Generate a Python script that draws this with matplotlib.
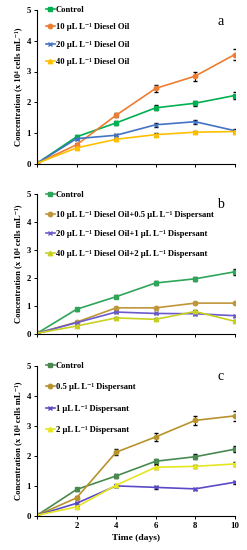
import matplotlib.pyplot as plt
from matplotlib.lines import Line2D

plt.rcParams['font.family'] = ['Liberation Serif', 'DejaVu Serif']

days = [0, 2, 4, 6, 8, 10]

# panel a
control = [0.02, 0.88, 1.33, 1.82, 1.97, 2.22]
control_err = [0.0, 0.05, 0.06, 0.08, 0.08, 0.1]
a_10 = [0.02, 0.62, 1.58, 2.45, 2.85, 3.55]
a_10_err = [0.0, 0.05, 0.06, 0.12, 0.15, 0.18]
a_20 = [0.02, 0.82, 0.93, 1.27, 1.37, 1.08]
a_20_err = [0.0, 0.04, 0.04, 0.06, 0.06, 0.05]
a_40 = [0.02, 0.52, 0.80, 0.95, 1.03, 1.05]
a_40_err = [0.0, 0.03, 0.03, 0.04, 0.04, 0.04]

# panel b
b_10 = [0.02, 0.42, 0.93, 0.93, 1.10, 1.10]
b_10_err = [0.0, 0.03, 0.04, 0.04, 0.04, 0.04]
b_20 = [0.02, 0.40, 0.78, 0.73, 0.72, 0.65]
b_20_err = [0.0, 0.03, 0.03, 0.03, 0.03, 0.03]
b_40 = [0.02, 0.28, 0.57, 0.52, 0.80, 0.45]
b_40_err = [0.0, 0.02, 0.03, 0.03, 0.04, 0.03]

# panel c
c_05 = [0.02, 0.60, 2.12, 2.63, 3.18, 3.33]
c_05_err = [0.0, 0.05, 0.1, 0.14, 0.16, 0.16]
c_1 = [0.02, 0.42, 1.00, 0.95, 0.90, 1.12]
c_1_err = [0.0, 0.03, 0.04, 0.04, 0.04, 0.05]
c_2 = [0.02, 0.30, 1.02, 1.62, 1.65, 1.73]
c_2_err = [0.0, 0.03, 0.05, 0.06, 0.06, 0.08]

panels = [
    ('a', [
        ('Control', control, control_err, '#00b050', 's'),
        ('10 \u00b5L L\u207b\u00b9 Diesel Oil', a_10, a_10_err, '#ed7d31', 'o'),
        ('20 \u00b5L L\u207b\u00b9 Diesel Oil', a_20, a_20_err, '#4472c4', 'x'),
        ('40 \u00b5L L\u207b\u00b9 Diesel Oil', a_40, a_40_err, '#ffc000', '^'),
    ]),
    ('b', [
        ('Control', control, control_err, '#2fa55a', 's'),
        ('10 \u00b5L L\u207b\u00b9 Diesel Oil+0.5 \u00b5L L\u207b\u00b9 Dispersant', b_10, b_10_err, '#c0963c', 'o'),
        ('20 \u00b5L L\u207b\u00b9 Diesel Oil+1 \u00b5L L\u207b\u00b9 Dispersant', b_20, b_20_err, '#6a5acd', 'x'),
        ('40 \u00b5L L\u207b\u00b9 Diesel Oil+2 \u00b5L L\u207b\u00b9 Dispersant', b_40, b_40_err, '#c8d020', '^'),
    ]),
    ('c', [
        ('Control', control, control_err, '#4a8a50', 's'),
        ('0.5 \u00b5L L\u207b\u00b9 Dispersant', c_05, c_05_err, '#b8922a', 'o'),
        ('1 \u00b5L L\u207b\u00b9 Dispersant', c_1, c_1_err, '#5a4ac8', 'x'),
        ('2 \u00b5L L\u207b\u00b9 Dispersant', c_2, c_2_err, '#e6e620', '^'),
    ]),
]

fig = plt.figure(figsize=(2.47, 5.5), dpi=100)
boxes = [(0.15, 0.702, 0.80, 0.280),
         (0.15, 0.393, 0.80, 0.254),
         (0.15, 0.062, 0.80, 0.273)]
spacings = [1.1, 1.35, 1.55]

for (letter, series), box, sp in zip(panels, boxes, spacings):
    ax = fig.add_axes(box)
    handles = []
    for label, vals, err, color, mk in series:
        ax.errorbar(days, vals, yerr=err, color=color, marker=mk, markersize=3.2,
                    linewidth=1.2, ecolor='black', elinewidth=0.7, capsize=1.2,
                    markeredgewidth=1.0)
        handles.append(Line2D([], [], color=color, marker=mk, markersize=3.2,
                              linewidth=1.2, markeredgewidth=1.0, label=label))
    ax.set_xlim(0, 10)
    ax.set_ylim(0, 5)
    ax.set_xticks(days)
    ax.set_yticks([0, 1, 2, 3, 4, 5])
    ax.spines['top'].set_visible(False)
    ax.spines['right'].set_visible(False)
    ax.tick_params(length=2.5, width=0.7, labelsize=6.3, pad=2)
    for t in ax.get_yticklabels():
        t.set_fontweight('bold')
    if letter == 'c':
        ax.set_xticklabels(['', '2', '4', '6', '8', '10'], fontweight='bold')
        ax.set_xlabel('Time (days)', fontsize=6.8, fontweight='bold', labelpad=3)
    else:
        ax.set_xticklabels([])
    ax.set_ylabel('Concentration (x 10\u2074 cells mL\u207b\u00b9)', fontsize=6.2,
                  fontweight='bold', labelpad=3)
    ax.text(0.93, 0.97, letter, transform=ax.transAxes, fontsize=10,
            ha='center', va='top')
    leg = ax.legend(handles=handles, loc='upper left', bbox_to_anchor=(0.02, 1.06),
                    frameon=False, fontsize=6.2, handlelength=1.0,
                    handletextpad=0.1, labelspacing=sp, borderaxespad=0.2)
    for t in leg.get_texts():
        t.set_fontweight('bold')

fig.savefig('out.png', dpi=100)
